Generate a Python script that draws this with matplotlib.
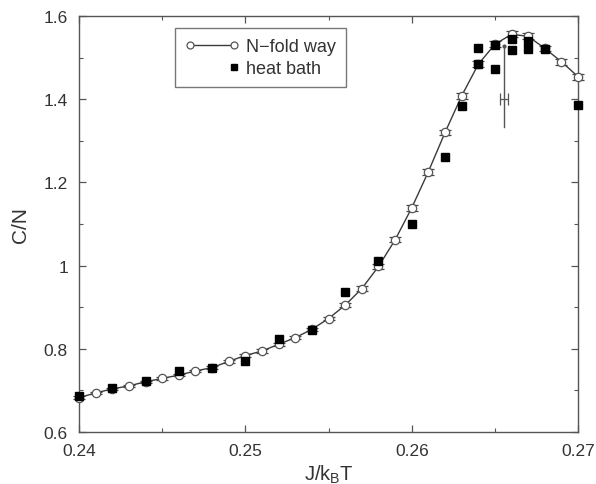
import matplotlib
matplotlib.use("Agg")
import matplotlib.pyplot as plt
from matplotlib.ticker import MultipleLocator
from matplotlib.lines import Line2D
from matplotlib.legend_handler import HandlerLine2D

plt.rcParams['font.family'] = ['Liberation Sans', 'DejaVu Sans']
plt.rcParams['mathtext.default'] = 'regular'

# N-fold way data
nfold_x = [0.240, 0.241, 0.242, 0.243, 0.244, 0.245, 0.246, 0.247, 0.248, 0.249,
           0.250, 0.251, 0.252, 0.253, 0.254, 0.255, 0.256, 0.257, 0.258, 0.259,
           0.260, 0.261, 0.262, 0.263, 0.264, 0.265, 0.266, 0.267, 0.268, 0.269, 0.270]
nfold_y = [0.683, 0.694, 0.704, 0.711, 0.721, 0.729, 0.737, 0.747, 0.755, 0.770,
           0.784, 0.795, 0.811, 0.827, 0.847, 0.873, 0.905, 0.945, 0.998, 1.062,
           1.139, 1.226, 1.320, 1.408, 1.484, 1.532, 1.556, 1.551, 1.522, 1.490, 1.454]
nfold_err = [0.003, 0.003, 0.003, 0.003, 0.003, 0.003, 0.003, 0.003, 0.003, 0.003,
             0.004, 0.004, 0.004, 0.004, 0.004, 0.004, 0.005, 0.005, 0.006, 0.006,
             0.007, 0.007, 0.007, 0.007, 0.007, 0.007, 0.007, 0.007, 0.007, 0.007, 0.007]

# heat bath data
heat_x = [0.240, 0.242, 0.244, 0.246, 0.248, 0.250, 0.252, 0.254, 0.256, 0.258,
          0.260, 0.262, 0.263, 0.264, 0.264, 0.265, 0.265, 0.266, 0.266, 0.267,
          0.267, 0.268, 0.270]
heat_y = [0.686, 0.706, 0.723, 0.747, 0.755, 0.771, 0.824, 0.845, 0.937, 1.011,
          1.100, 1.260, 1.383, 1.522, 1.485, 1.530, 1.472, 1.544, 1.519, 1.540,
          1.521, 1.520, 1.386]

# peak location estimate
peak_x = 0.26555
peak_xerr = 0.00022
peak_y = 1.40
peak_line_y = [1.332, 1.527]


class RightMarkerHandler(HandlerLine2D):
    def create_artists(self, legend, orig_handle, xdescent, ydescent, width,
                       height, fontsize, trans):
        arts = super().create_artists(legend, orig_handle, xdescent, ydescent,
                                      width, height, fontsize, trans)
        for a in arts:
            xd, yd = a.get_data()
            a.set_markevery(None)
            a.set_data([xd[-1]], [yd[-1]])
        return arts


fig = plt.figure(figsize=(5.96, 4.85), dpi=100)
ax = fig.add_axes([0.1326, 0.107, 0.8374, 0.858])

ink = '#3a3a3a'
circ_kw = dict(marker='o', ms=6, mfc='white', mec='#555555', mew=0.9)
eb = ax.errorbar(nfold_x, nfold_y, yerr=nfold_err, fmt='-', color=ink, lw=1.0,
                 ecolor='#444444', elinewidth=0.9, capsize=4, capthick=0.9,
                 zorder=3, **circ_kw)
for art in [eb[0]] + list(eb[1]) + list(eb[2]):
    art.set_clip_on(False)
ax.plot(heat_x, heat_y, linestyle='none', marker='s', ms=6, color='black',
        zorder=4, clip_on=False)

ax.plot([peak_x, peak_x], peak_line_y, color='#555555', lw=1.0, zorder=2)
ax.plot([peak_x], [peak_line_y[1]], marker='o', ms=2, color='#555555')
ax.errorbar([peak_x], [peak_y], xerr=[peak_xerr], fmt='none', ecolor='#555555',
            elinewidth=0.9, capsize=4, capthick=0.9)

ax.set_xlim(0.24, 0.27)
ax.set_ylim(0.6, 1.6)
ax.xaxis.set_minor_locator(MultipleLocator(0.005))
ax.yaxis.set_minor_locator(MultipleLocator(0.1))
ax.set_xticks([0.24, 0.25, 0.26, 0.27])
ax.set_xticklabels(['0.24', '0.25', '0.26', '0.27'])
ax.set_yticks([0.6, 0.8, 1.0, 1.2, 1.4, 1.6])
ax.set_yticklabels(['0.6', '0.8', '1', '1.2', '1.4', '1.6'])

for s in ax.spines.values():
    s.set_color('#555555')
    s.set_linewidth(1.0)
ax.tick_params(which='both', direction='in', top=True, right=True,
               colors='#555555', labelcolor='#333333', labelsize=12.5)
ax.tick_params(which='major', length=5, width=0.9, pad=8)
ax.tick_params(which='minor', length=3, width=0.8)

ax.set_xlabel('J/k$_B$T', fontsize=14.5, color='#333333', labelpad=3)
ax.set_ylabel('C/N', fontsize=15, color='#333333', labelpad=10)

h_nfold = Line2D([], [], color=ink, lw=1.0, marker='o', ms=5, mfc='white',
                 mec='#555555', mew=0.9)
h_heat = Line2D([], [], ls='none', marker='s', ms=5, color='black')
leg = ax.legend([h_nfold, h_heat], ['N\u2212fold way', 'heat bath'],
                handler_map={h_heat: RightMarkerHandler()},
                loc='upper left', bbox_to_anchor=(0.192, 0.971), borderaxespad=0,
                numpoints=2, fontsize=13, frameon=True, fancybox=False,
                handlelength=3.0, borderpad=0.55, labelspacing=0.3,
                handletextpad=0.4)
leg.get_frame().set_edgecolor('#555555')
leg.get_frame().set_linewidth(1.0)
for t in leg.get_texts():
    t.set_color('#333333')

fig.savefig('out.png', dpi=100)
